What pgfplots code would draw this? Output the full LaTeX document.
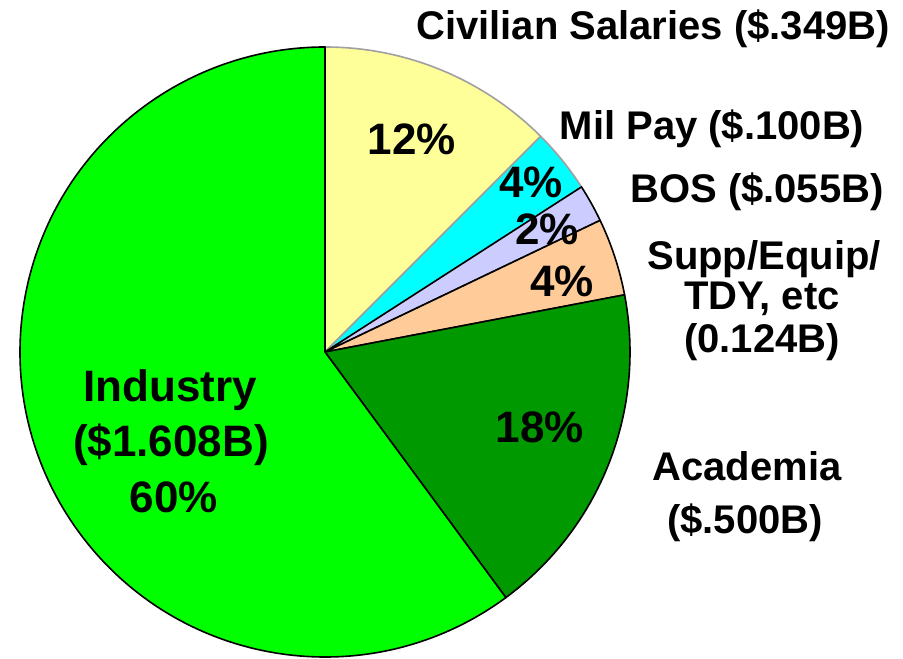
\documentclass[border=0pt]{standalone}
\usepackage{pgfplots}
\pgfplotsset{compat=1.18}
\usepackage{fontspec}
\setmainfont{Liberation Sans}
\definecolor{civ}{HTML}{FFFF99}
\definecolor{mil}{HTML}{00FFFF}
\definecolor{bos}{HTML}{CCCCFF}
\definecolor{supp}{HTML}{FFCC99}
\definecolor{acad}{HTML}{009900}
\definecolor{indus}{HTML}{00FF00}
\definecolor{softedge}{HTML}{A0A0A0}

\begin{document}
\begin{tikzpicture}
  \begin{axis}[
    x=0.5pt, y=0.5pt,
    xmin=0, xmax=903,
    ymin=0, ymax=658,
    hide axis,
    clip=false,
  ]
    \coordinate (bl) at (axis cs:0,0);
    \coordinate (tr) at (axis cs:903,658);
    % slice shares (percent, as drawn), clockwise from 12 o'clock
    \pgfmathsetmacro\total{12.5+3.4+2.0+4.1+17.9+60.1}
    \gdef\cum{0}
    \foreach \v/\c/\d in {12.5/civ/softedge, 3.4/mil/softedge,
                          2.0/bos/black, 4.1/supp/black,
                          17.9/acad/black, 60.1/indus/black} {
      \pgfmathsetmacro\a{90-\cum/\total*360}
      \pgfmathsetmacro\b{90-(\cum+\v)/\total*360}
      \edef\temp{\noexpand\filldraw[fill=\c, draw=\d, line width=0.8pt, line join=round]
        (axis cs:325,306) -- ++(\a:152.5pt)
        arc[start angle=\a, end angle=\b, radius=152.5pt] -- cycle;}
      \temp
      \pgfmathsetmacro\newcum{\cum+\v}
      \global\let\cum\newcum
    }
    \tikzset{outlab/.style={anchor=base, inner sep=0pt, font=\bfseries\fontsize{20}{24}\selectfont},
             inlab/.style={anchor=base, inner sep=0pt, font=\bfseries\fontsize{22}{26}\selectfont}}
    % outside labels
    \node[outlab] at (axis cs:653,618) {Civilian Salaries (\$.349B)};
    \node[outlab] at (axis cs:712,518) {Mil Pay (\$.100B)};
    \node[outlab] at (axis cs:757,455) {BOS (\$.055B)};
    \node[outlab] at (axis cs:764,388) {Supp/Equip/};
    \node[outlab] at (axis cs:762,348) {TDY, etc};
    \node[outlab] at (axis cs:762,305) {(0.124B)};
    \node[outlab] at (axis cs:747,177) {Academia};
    \node[outlab] at (axis cs:745,125) {(\$.500B)};
    % inside labels
    \node[inlab] at (axis cs:412,503) {12\%};
    \node[inlab] at (axis cs:531,460) {4\%};
    \node[inlab] at (axis cs:547,413) {2\%};
    \node[inlab] at (axis cs:562,361) {4\%};
    \node[inlab] at (axis cs:540,215) {18\%};
    \node[inlab] at (axis cs:170,256) {Industry};
    \node[inlab] at (axis cs:171,201) {(\$1.608B)};
    \node[inlab] at (axis cs:174,146) {60\%};
  \end{axis}
  \pgfresetboundingbox
  \path[use as bounding box] (bl) rectangle (tr);
\end{tikzpicture}
\end{document}
